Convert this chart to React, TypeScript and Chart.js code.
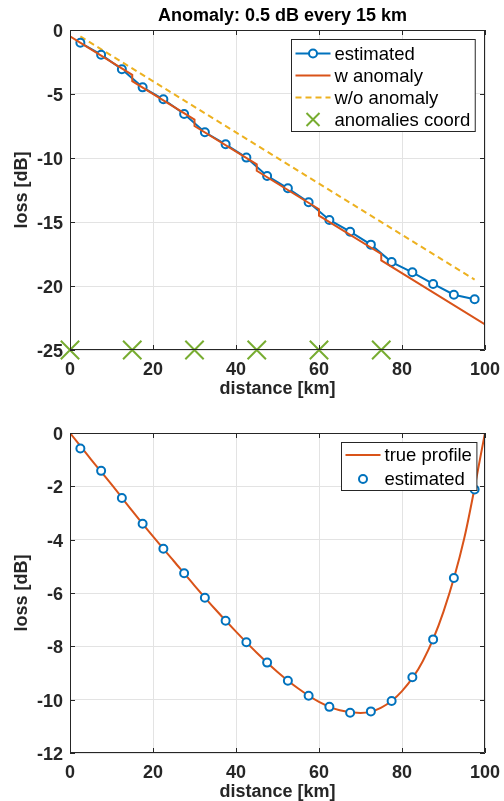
import React, { useEffect, useRef } from 'react';
import { Chart, registerables } from 'chart.js';
Chart.register(...registerables);

const BLUE = '#0072BD';
const RED = '#D95319';
const YELLOW = '#EDB120';
const GREEN = '#77AC30';
const TXT = '#262626';
const GRID = '#e3e3e3';
const FONT = '"Liberation Sans", Arial, Helvetica, sans-serif';

// ---------- top chart data ----------
const TITLE_TOP = 'Anomaly: 0.5 dB every 15 km';
const estX = [2.5, 7.5, 12.5, 17.5, 22.5, 27.5, 32.5, 37.5, 42.5, 47.5, 52.5, 57.5, 62.5, 67.5, 72.5, 77.5, 82.5, 87.5, 92.5, 97.5];
const estTop = [-1.0, -1.93, -3.07, -4.48, -5.41, -6.56, -7.99, -8.93, -9.97, -11.4, -12.37, -13.46, -14.84, -15.76, -16.77, -18.13, -18.93, -19.84, -20.68, -21.04];
const wAnomX = [0, 15, 15, 30, 30, 45, 45, 60, 60, 75, 75, 100];
const wAnomY = [-0.5, -3.5, -4, -7, -7.5, -10.5, -11, -14, -14.5, -17.5, -18, -23];
const woAnomX = [2.5, 97.5];
const woAnomY = [-0.5, -19.5];
const anomCoordX = [0, 15, 30, 45, 60, 75];
const anomCoordY = [-25, -25, -25, -25, -25, -25];
const topXTicks = [0, 20, 40, 60, 80, 100];
const topYRange = [-25, 0];

// ---------- bottom chart data ----------
const profX = [0, 5, 10, 15, 20, 25, 30, 35, 40, 45, 50, 55, 60, 65, 70, 75, 80, 85, 90, 95, 100];
const profY = [0, -0.98, -1.93, -2.92, -3.88, -4.8, -5.72, -6.61, -7.45, -8.24, -8.96, -9.58, -10.08, -10.4, -10.5, -10.3, -9.68, -8.56, -6.7, -3.95, 0];
const estBottom = [-0.58, -1.42, -2.44, -3.4, -4.34, -5.26, -6.18, -7.04, -7.85, -8.61, -9.29, -9.85, -10.27, -10.49, -10.44, -10.05, -9.16, -7.74, -5.44, -2.12];
const botYRange = [-12, 0];

const XLABEL = 'distance [km]';
const YLABEL = 'loss [dB]';

type LegendItem = { label: string; kind: 'lineMarker' | 'line' | 'dash' | 'cross' | 'marker'; color: string };
type LegendCfg = { items: LegendItem[]; rowH: number; first: number; height: number; rightGap: number; topGap: number };

function pts(xs: number[], ys: number[]) {
  return xs.map((x, i) => ({ x, y: ys[i] }));
}

function makePlugin(title: string | null, legend: LegendCfg) {
  return {
    id: 'matlabDecor',
    afterDraw(chart: any) {
      const ctx: CanvasRenderingContext2D = chart.ctx;
      const { left, right, top, bottom } = chart.chartArea;
      ctx.save();
      // box
      ctx.strokeStyle = TXT;
      ctx.lineWidth = 1;
      ctx.beginPath();
      ctx.rect(left + 0.5, top + 0.5, right - left - 1, bottom - top - 1);
      ctx.stroke();
      // inner ticks
      const xs = chart.scales.x;
      const ys = chart.scales.y;
      ctx.beginPath();
      xs.ticks.forEach((t: any) => {
        const px = Math.round(xs.getPixelForValue(t.value)) + 0.5;
        ctx.moveTo(px, bottom);
        ctx.lineTo(px, bottom - 5);
        ctx.moveTo(px, top);
        ctx.lineTo(px, top + 5);
      });
      ys.ticks.forEach((t: any) => {
        const py = Math.round(ys.getPixelForValue(t.value)) + 0.5;
        ctx.moveTo(left, py);
        ctx.lineTo(left + 5, py);
        ctx.moveTo(right, py);
        ctx.lineTo(right - 5, py);
      });
      ctx.stroke();

      // titles
      ctx.fillStyle = TXT;
      ctx.textAlign = 'center';
      ctx.textBaseline = 'middle';
      const cx = (left + right) / 2;
      if (title) {
        ctx.fillStyle = '#000000';
        ctx.font = `bold 18px ${FONT}`;
        ctx.fillText(title, cx + 5, top - 14);
        ctx.fillStyle = TXT;
      }
      ctx.font = `bold 18px ${FONT}`;
      ctx.fillText(XLABEL, cx, bottom + 39);
      ctx.save();
      ctx.translate(22, (top + bottom) / 2);
      ctx.rotate(-Math.PI / 2);
      ctx.fillText(YLABEL, 0, 0);
      ctx.restore();

      // legend
      ctx.font = `18.5px ${FONT}`;
      let maxW = 0;
      legend.items.forEach((it) => {
        maxW = Math.max(maxW, ctx.measureText(it.label).width);
      });
      const w = maxW + 48;
      const bx = Math.round(right - legend.rightGap - w) + 0.5;
      const by = Math.round(top + legend.topGap) + 0.5;
      ctx.fillStyle = '#ffffff';
      ctx.fillRect(bx, by, w, legend.height);
      ctx.strokeStyle = TXT;
      ctx.lineWidth = 1;
      ctx.strokeRect(bx, by, w, legend.height);
      legend.items.forEach((it, i) => {
        const y = by + legend.first + i * legend.rowH;
        const x0 = bx + 4;
        const x1 = bx + 39;
        const xm = (x0 + x1) / 2;
        ctx.strokeStyle = it.color;
        ctx.lineWidth = 2;
        ctx.setLineDash([]);
        if (it.kind === 'line' || it.kind === 'lineMarker' || it.kind === 'dash') {
          if (it.kind === 'dash') ctx.setLineDash([6, 4]);
          ctx.beginPath();
          ctx.moveTo(x0, y);
          ctx.lineTo(x1, y);
          ctx.stroke();
          ctx.setLineDash([]);
        }
        if (it.kind === 'lineMarker' || it.kind === 'marker') {
          ctx.beginPath();
          ctx.arc(xm, y, 4, 0, Math.PI * 2);
          ctx.fillStyle = '#ffffff';
          ctx.fill();
          ctx.stroke();
        }
        if (it.kind === 'cross') {
          const r = 6.5;
          ctx.beginPath();
          ctx.moveTo(xm - r, y - r);
          ctx.lineTo(xm + r, y + r);
          ctx.moveTo(xm - r, y + r);
          ctx.lineTo(xm + r, y - r);
          ctx.stroke();
        }
        ctx.fillStyle = '#000000';
        ctx.textAlign = 'left';
        ctx.textBaseline = 'middle';
        ctx.fillText(it.label, bx + 43, y + 1);
      });
      ctx.restore();
    },
  };
}

function scaleOpts(min: number, max: number, step: number, axisSize: number, isX: boolean) {
  return {
    type: 'linear',
    min,
    max,
    ticks: {
      stepSize: step,
      color: TXT,
      font: { family: FONT, size: 18, weight: 'bold' },
      padding: isX ? 9 : 7,
      labelOffset: isX ? 0 : 2,
    },
    grid: { color: GRID, lineWidth: 1, drawTicks: false },
    border: { display: false },
    afterFit: (s: any) => {
      if (isX) {
        s.height = axisSize;
        s.paddingLeft = 0;
        s.paddingRight = 0;
      } else {
        s.width = axisSize;
        s.paddingTop = 0;
        s.paddingBottom = 0;
      }
    },
  };
}

export default function App() {
  const ref1 = useRef<HTMLCanvasElement>(null);
  const ref2 = useRef<HTMLCanvasElement>(null);

  useEffect(() => {
    const c1 = new Chart(ref1.current as HTMLCanvasElement, {
      type: 'line',
      data: {
        datasets: [
          {
            label: 'estimated',
            data: pts(estX, estTop),
            borderColor: BLUE,
            borderWidth: 2,
            pointRadius: 4,
            pointBorderWidth: 2,
            pointBackgroundColor: '#ffffff',
            pointBorderColor: BLUE,
            tension: 0,
            order: 2,
          },
          {
            label: 'w anomaly',
            data: pts(wAnomX, wAnomY),
            borderColor: RED,
            borderWidth: 2,
            pointRadius: 0,
            tension: 0,
            order: 1,
          },
          {
            label: 'w/o anomaly',
            data: pts(woAnomX, woAnomY),
            borderColor: YELLOW,
            borderWidth: 2,
            borderDash: [6, 4],
            pointRadius: 0,
            tension: 0,
            order: 3,
          },
          {
            label: 'anomalies coord',
            data: pts(anomCoordX, anomCoordY),
            showLine: false,
            borderColor: GREEN,
            pointBorderColor: GREEN,
            pointStyle: 'crossRot',
            pointRadius: 13,
            pointBorderWidth: 2,
            clip: false,
            order: 0,
          },
        ] as any,
      },
      options: {
        animation: false,
        responsive: false,
        maintainAspectRatio: false,
        devicePixelRatio: 1,
        events: [],
        layout: { padding: { left: 0, right: 19, top: 30, bottom: 0 } },
        plugins: { legend: { display: false }, tooltip: { enabled: false }, title: { display: false } },
        scales: {
          x: { ...scaleOpts(topXTicks[0], topXTicks[topXTicks.length - 1], 20, 50, true) },
          y: { ...scaleOpts(topYRange[0], topYRange[1], 5, 70, false) },
        } as any,
      },
      plugins: [
        makePlugin(TITLE_TOP, {
          items: [
            { label: 'estimated', kind: 'lineMarker', color: BLUE },
            { label: 'w anomaly', kind: 'line', color: RED },
            { label: 'w/o anomaly', kind: 'dash', color: YELLOW },
            { label: 'anomalies coord', kind: 'cross', color: GREEN },
          ],
          rowH: 22,
          first: 14,
          height: 92,
          rightGap: 10,
          topGap: 9,
        }),
      ],
    });

    const c2 = new Chart(ref2.current as HTMLCanvasElement, {
      type: 'line',
      data: {
        datasets: [
          {
            label: 'true profile',
            data: pts(profX, profY),
            borderColor: RED,
            borderWidth: 2,
            pointRadius: 0,
            cubicInterpolationMode: 'monotone',
            order: 1,
          },
          {
            label: 'estimated',
            data: pts(estX, estBottom),
            showLine: false,
            borderColor: BLUE,
            pointRadius: 4,
            pointBorderWidth: 2,
            pointBackgroundColor: '#ffffff',
            pointBorderColor: BLUE,
            order: 0,
          },
        ] as any,
      },
      options: {
        animation: false,
        responsive: false,
        maintainAspectRatio: false,
        devicePixelRatio: 1,
        events: [],
        layout: { padding: { left: 0, right: 19, top: 33, bottom: 0 } },
        plugins: { legend: { display: false }, tooltip: { enabled: false }, title: { display: false } },
        scales: {
          x: { ...scaleOpts(0, 100, 20, 48, true) },
          y: { ...scaleOpts(botYRange[0], botYRange[1], 2, 70, false) },
        } as any,
      },
      plugins: [
        makePlugin(null, {
          items: [
            { label: 'true profile', kind: 'line', color: RED },
            { label: 'estimated', kind: 'marker', color: BLUE },
          ],
          rowH: 24,
          first: 12.5,
          height: 48,
          rightGap: 9,
          topGap: 9,
        }),
      ],
    });

    return () => {
      c1.destroy();
      c2.destroy();
    };
  }, []);

  return (
    <div style={{ position: 'absolute', left: 0, top: 0, width: 504, height: 801, background: '#ffffff' }}>
      <canvas ref={ref1} width={504} height={400} style={{ position: 'absolute', left: 0, top: 0 }} />
      <canvas ref={ref2} width={504} height={401} style={{ position: 'absolute', left: 0, top: 400 }} />
    </div>
  );
}
